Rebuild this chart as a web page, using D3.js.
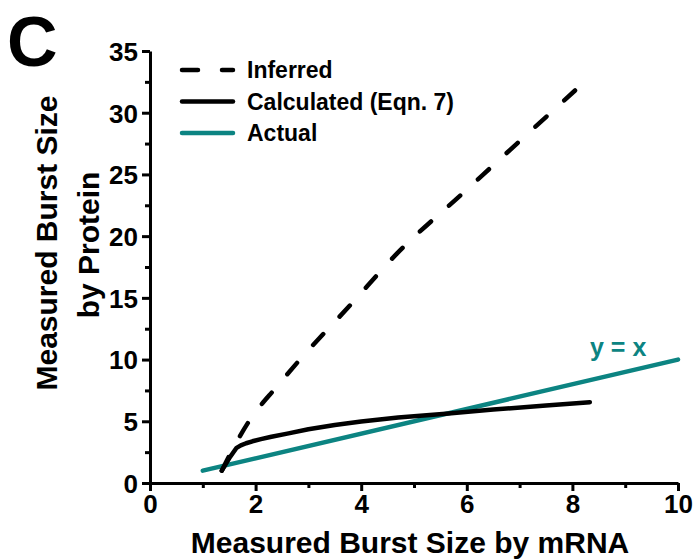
<!DOCTYPE html>
<html>
<head>
<meta charset="utf-8">
<script src="https://cdn.jsdelivr.net/npm/d3@7"></script>
<style>
  body { margin: 0; background: #fff; }
  svg text { font-family: "Liberation Sans", Arial, sans-serif; font-weight: bold; }
</style>
</head>
<body>
<svg id="chart" width="695" height="560"></svg>
<script>
// values
const inferredX = [1.36, 1.5, 1.89, 2.4, 2.84, 3.79, 4.68, 5.93, 6.95, 8.05];
const inferredY = [1.0, 2.2, 5.1, 7.8, 10.0, 14.4, 18.6, 23.5, 27.5, 31.8];

const calcX = [1.36, 1.5, 1.64, 1.72, 1.82, 1.94, 2.1, 2.3, 2.6, 3.0, 3.5, 4.0, 4.7, 5.6, 6.5, 7.5, 8.33];
const calcY = [1.0, 2.0, 2.85, 3.05, 3.22, 3.38, 3.55, 3.75, 4.0, 4.35, 4.7, 4.98, 5.3, 5.62, 5.95, 6.28, 6.55];

const actualX = [1, 10];
const actualY = [1, 10];

const xTicks = [0, 2, 4, 6, 8, 10];
const yTicks = [0, 5, 10, 15, 20, 25, 30, 35];

const legendNames = ["Inferred", "Calculated (Eqn. 7)", "Actual"];

const teal = "#0c8482";

const svg = d3.select("#chart");

const x = d3.scaleLinear().domain([0, 10]).range([150, 678]);
const y = d3.scaleLinear().domain([0, 35]).range([483, 51]);

// axes
const xAxis = svg.append("g")
  .attr("transform", `translate(0,${y(0)})`)
  .call(d3.axisBottom(x).tickValues(xTicks).tickSize(8).tickSizeOuter(0).tickPadding(3));
svg.append("g")
  .attr("transform", `translate(0,${y(0)})`)
  .call(d3.axisBottom(x).tickValues(d3.range(1, 10, 2)).tickSize(5).tickFormat(""))
  .call(g => g.select(".domain").remove());

const yAxis = svg.append("g")
  .attr("transform", `translate(${x(0)},0)`)
  .call(d3.axisLeft(y).tickValues(yTicks).tickSize(8).tickSizeOuter(0).tickPadding(4));
svg.append("g")
  .attr("transform", `translate(${x(0)},0)`)
  .call(d3.axisLeft(y).tickValues(d3.range(2.5, 35, 5)).tickSize(5).tickFormat(""))
  .call(g => g.select(".domain").remove());

svg.selectAll(".domain").attr("stroke", "#000").attr("stroke-width", 3);
svg.selectAll(".tick line").attr("stroke", "#000").attr("stroke-width", 3);
xAxis.selectAll(".tick text").attr("font-size", 26).attr("fill", "#000").attr("dy", "0.74em");
yAxis.selectAll(".tick text").attr("font-size", 26).attr("fill", "#000").attr("dy", "0.36em");

// axis titles
svg.append("text")
  .attr("x", 410).attr("y", 553)
  .attr("text-anchor", "middle")
  .attr("font-size", 30)
  .text("Measured Burst Size by mRNA");

svg.append("text")
  .attr("transform", "translate(57,243) rotate(-90)")
  .attr("text-anchor", "middle")
  .attr("font-size", 30)
  .text("Measured Burst Size");
svg.append("text")
  .attr("transform", "translate(99,245) rotate(-90)")
  .attr("text-anchor", "middle")
  .attr("font-size", 30)
  .text("by Protein");

// panel letter
svg.append("text")
  .attr("x", 7).attr("y", 66)
  .attr("font-size", 70)
  .text("C");

// lines
const line = d3.line()
  .x(d => x(d[0]))
  .y(d => y(d[1]));

svg.append("path")
  .datum(d3.zip(actualX, actualY))
  .attr("d", line)
  .attr("fill", "none")
  .attr("stroke", teal)
  .attr("stroke-width", 4.5)
  .attr("stroke-linecap", "round");

svg.append("path")
  .datum(d3.zip(calcX, calcY))
  .attr("d", line)
  .attr("fill", "none")
  .attr("stroke", "#000")
  .attr("stroke-width", 4.5)
  .attr("stroke-linecap", "round")
  .attr("stroke-linejoin", "round");

svg.append("path")
  .datum(d3.zip(inferredX, inferredY))
  .attr("d", line.curve(d3.curveMonotoneX))
  .attr("fill", "none")
  .attr("stroke", "#000")
  .attr("stroke-width", 4.5)
  .attr("stroke-linecap", "round")
  .attr("stroke-dasharray", "15,24");

svg.append("text")
  .attr("x", 590).attr("y", 356)
  .attr("font-size", 25)
  .attr("fill", teal)
  .text("y = x");

// legend
const legendStyles = [
  { stroke: "#000", dash: "16,24" },
  { stroke: "#000", dash: null },
  { stroke: teal, dash: null }
];
const leg = svg.append("g").selectAll("g")
  .data(legendNames)
  .join("g")
  .attr("transform", (d, i) => `translate(0,${70 + i * 31.5})`);

leg.append("line")
  .attr("x1", 182).attr("x2", 233)
  .attr("stroke", (d, i) => legendStyles[i].stroke)
  .attr("stroke-width", 4.5)
  .attr("stroke-linecap", "round")
  .attr("stroke-dasharray", (d, i) => legendStyles[i].dash);

leg.append("text")
  .attr("x", 247).attr("dy", "0.36em")
  .attr("font-size", 23)
  .text(d => d);
</script>
</body>
</html>
